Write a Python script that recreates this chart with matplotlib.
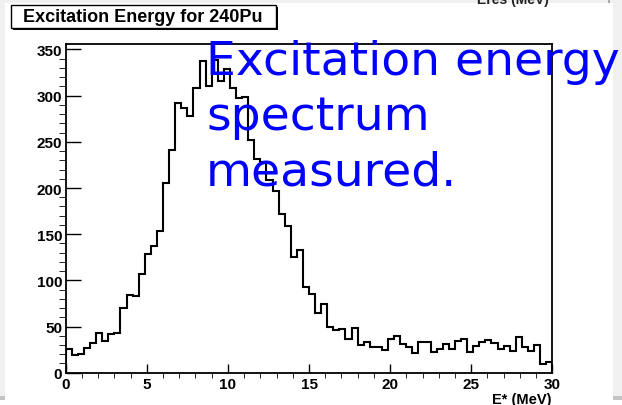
import numpy as np
import matplotlib
matplotlib.use("Agg")
import matplotlib.pyplot as plt
from matplotlib.patches import Rectangle
from matplotlib.ticker import MultipleLocator

# excitation energy histogram, 80 bins of 0.375 MeV between 0 and 30 MeV
e_min, e_max = 0.0, 30.0
counts = [26, 19, 20, 27, 32, 43, 34, 42, 43, 70,
          84, 83, 107, 128, 137, 153, 205, 241, 292, 287,
          278, 308, 338, 310, 339, 316, 329, 308, 298, 299,
          252, 231, 228, 209, 197, 172, 159, 125, 133, 93,
          85, 65, 74, 50, 46, 47, 36, 48, 30, 33,
          28, 28, 25, 37, 40, 31, 28, 21, 33, 33,
          22, 26, 31, 26, 34, 37, 22, 29, 33, 35,
          32, 26, 29, 24, 39, 28, 24, 30, 9, 12]
x_ticks = [0, 5, 10, 15, 20, 25, 30]
y_ticks = [0, 50, 100, 150, 200, 250, 300, 350]

title = "Excitation Energy for 240Pu"
x_label = "E* (MeV)"
note = "Excitation energy\nspectrum\nmeasured."

W, H = 622, 406
fig = plt.figure(figsize=(W / 100, H / 100), dpi=100, facecolor="white")


def px_rect(x0, y0, x1, y1, **kw):
    # rectangle given in pixels from the top-left corner
    r = Rectangle((x0 / W, 1 - y1 / H), (x1 - x0) / W, (y1 - y0) / H,
                  transform=fig.transFigure, **kw)
    fig.add_artist(r)
    return r


# grey window borders around the canvas
px_rect(0, 0, W, 4, facecolor="#f0f0f0", edgecolor="none", zorder=0)
px_rect(0, 0, 5, 397, facecolor="#f0f0f0", edgecolor="none", zorder=0)
px_rect(613, 0, W, 397, facecolor="#f0f0f0", edgecolor="none", zorder=0)
px_rect(0, 397, 5, 401, facecolor="#c4c4c4", edgecolor="none", zorder=0)
px_rect(613, 397, W, 401, facecolor="#c4c4c4", edgecolor="none", zorder=0)
px_rect(608, 0, 610, 4, facecolor="#a8a8a8", edgecolor="none", zorder=0)
fig.text(549 / W, 1 - 4 / H, "Eres (MeV)", ha="right", va="baseline",
         family="Liberation Sans", weight="bold", fontsize=10, color="#222222")

ax = fig.add_axes([65.7 / W, 1 - 373.7 / H, (552.3 - 65.7) / W, (373.7 - 45) / H])
edges = np.linspace(e_min, e_max, len(counts) + 1)
ax.stairs(counts, edges, color="black", linewidth=1.5)
ax.set_xlim(e_min, e_max)
ax.set_ylim(0, 1.05 * max(counts))

ax.set_xticks(x_ticks)
ax.set_yticks(y_ticks)
ax.xaxis.set_minor_locator(MultipleLocator(1))
ax.yaxis.set_minor_locator(MultipleLocator(10))
ax.tick_params(direction="in", top=False, right=False, width=1.0, color="black")
ax.tick_params(axis="x", which="major", length=6.5, pad=3)
ax.tick_params(axis="x", which="minor", length=3.5)
ax.tick_params(axis="y", which="major", length=10.8, pad=2.5)
ax.tick_params(axis="y", which="minor", length=5.4)
for lab in ax.get_xticklabels() + ax.get_yticklabels():
    lab.set_family("Liberation Sans")
    lab.set_fontweight("bold")
    lab.set_fontsize(11)
for sp in ax.spines.values():
    sp.set_linewidth(1.3)

fig.text(552 / W, 1 - 404 / H, x_label, ha="right", va="baseline",
         family="Liberation Sans", weight="bold", fontsize=10.5)

# title pave with its drop shadow
px_rect(12.7, 8, 278, 31.3, facecolor="black", edgecolor="none", zorder=5)
px_rect(10.7, 6, 276, 29.3, facecolor="white", edgecolor="black",
        linewidth=1.0, zorder=6)
fig.text(143 / W, 1 - 17.7 / H, title, ha="center", va="center",
         family="Liberation Sans", weight="bold", fontsize=13, zorder=7)

fig.text(206 / W, 1 - 40 / H, note, ha="left", va="top", color="#0000ff",
         fontsize=34, linespacing=1.3, zorder=10)

fig.savefig("out.png", dpi=100, facecolor="white")
